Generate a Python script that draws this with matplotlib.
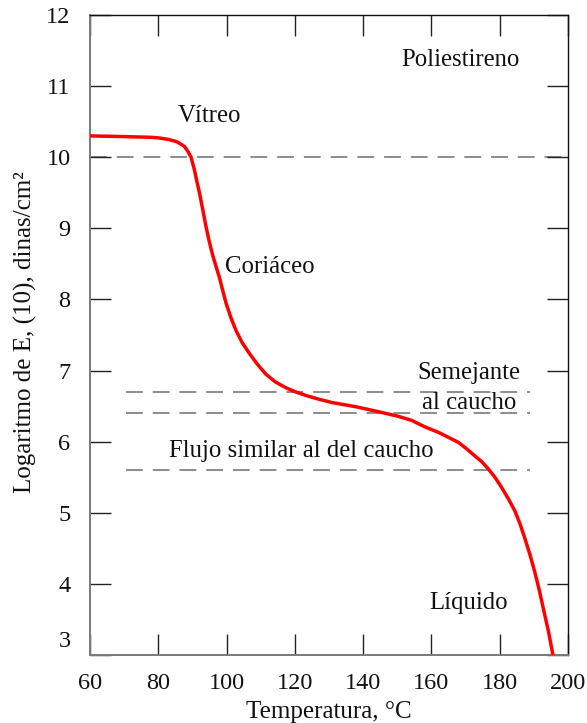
import numpy as np
import matplotlib
matplotlib.use("Agg")
import matplotlib.pyplot as plt
import matplotlib.transforms as mtransforms

plt.rcParams['font.family'] = ['Liberation Serif', 'DejaVu Serif']

# modulus curve (temperature degC, log E)
temp_c = [60, 70, 78, 80.4, 83, 85.3, 86.8, 87.7, 88.7, 89.6, 90.1, 90.6,
          91.3, 92.1, 93, 94, 95, 96, 97, 97.9, 98.9, 99.9, 101.3, 102.8,
          104.6, 106.7, 109, 111.5, 114.3, 117.3, 120.2, 123.2, 126.8, 130.9,
          138, 144.6, 150, 154.2, 158, 162.1, 165, 167.9, 170.3, 172.7, 174.7,
          176.6, 178.6, 180.5, 182.5, 184.4, 185.9, 187.3, 188.8, 190.2,
          191.5, 192.7, 194.2, 195.6, 195.9]
log_e = [10.30, 10.29, 10.28, 10.27, 10.25, 10.22, 10.18, 10.15, 10.08,
         10.00, 9.91, 9.82, 9.66, 9.49, 9.27, 9.02, 8.80, 8.61, 8.45, 8.31,
         8.12, 7.94, 7.74, 7.56, 7.39, 7.24, 7.09, 6.95, 6.84, 6.76, 6.70,
         6.65, 6.60, 6.55, 6.49, 6.42, 6.36, 6.30, 6.21, 6.13, 6.06, 5.99,
         5.90, 5.80, 5.72, 5.62, 5.50, 5.36, 5.20, 5.03, 4.85, 4.65, 4.42,
         4.18, 3.93, 3.67, 3.35, 3.00, 2.90]

# region boundaries (dashed)
bound_y = [10.0, 6.7, 6.4, 5.6]
bound_x0 = [60, 70.5, 70.5, 70.5]
bound_x1 = [200, 189, 189, 189]

# region labels
region_txt = ['Poliestireno', 'Vítreo', 'Coriáceo', 'Semejante', 'al caucho',
              'Flujo similar al del caucho', 'Líquido']
region_x = [168.5, 95, 112.8, 171, 171, 121.8, 170.8]
region_y = [11.37, 10.58, 8.45, 6.96, 6.54, 5.87, 3.73]

x_ticks = [60, 80, 100, 120, 140, 160, 180, 200]
y_ticks = [3, 4, 5, 6, 7, 8, 9, 10, 11, 12]

fig = plt.figure(figsize=(5.87, 7.23), dpi=100)
ax = fig.add_axes([90/587, 1-655/723, 478/587, 640/723])

for yv, xa, xb in zip(bound_y, bound_x0, bound_x1):
    ax.plot([xa, xb], [yv, yv], color='#6e6e6e', lw=1.1, dashes=(11, 6.5), zorder=1)

ax.plot(temp_c, log_e, color='#ff0000', lw=2.5, solid_joinstyle='round',
        solid_capstyle='butt', zorder=3)

for t, xv, yv in zip(region_txt, region_x, region_y):
    ax.text(xv, yv, t, ha='center', va='center', fontsize=17.8, color='#111111')

ax.set_xlim(60, 200)
ax.set_ylim(3, 12)
ax.set_xticks(x_ticks)
ax.set_yticks(y_ticks)
ax.tick_params(axis='both', direction='in', length=15, width=1.0,
               labelsize=17.5, top=True, right=True, colors='#222222',
               labelcolor='#111111')
ax.tick_params(axis='y', pad=14)
ax.tick_params(axis='x', pad=13)

# the "3" label sits a little higher in the reference
lab3 = ax.get_yticklabels()[0]
lab3.set_transform(lab3.get_transform() +
                   mtransforms.ScaledTranslation(0, 16/100, fig.dpi_scale_trans))

for side in ['left', 'bottom']:
    ax.spines[side].set_color('#7a7a7a')
    ax.spines[side].set_linewidth(1.4)
for side in ['top', 'right']:
    ax.spines[side].set_color('#111111')
    ax.spines[side].set_linewidth(1.0)

ax.set_xlabel('Temperatura, °C', fontsize=18, color='#111111', labelpad=5)
ax.set_ylabel('Logaritmo de E, (10), dinas/cm²', fontsize=18, color='#111111')
ax.yaxis.set_label_coords(-0.111, 0.505)

fig.savefig('out.png', dpi=100)
